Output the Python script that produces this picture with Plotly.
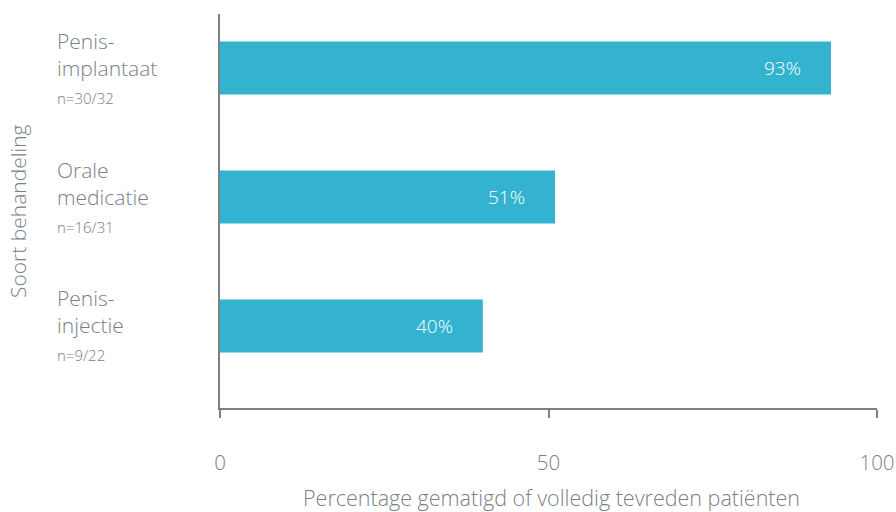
import plotly.graph_objects as go

categories = ["Penis-implantaat", "Orale medicatie", "Penis-injectie"]
label_lines = [["Penis-", "implantaat"], ["Orale", "medicatie"], ["Penis-", "injectie"]]
counts = ["n=30/32", "n=16/31", "n=9/22"]
values = [93, 51, 40]
x_ticks = [0, 50, 100]
x_tick_labels = ["0", "50", "100"]

bar_color = "#33b3cf"
grey = "#7b8087"
font_family = "Open Sans"

L, R, T, B = 220, 19, 14, 104
W, H = 896, 512
pw, ph = W - L - R, H - T - B

fig = go.Figure()
fig.add_trace(go.Bar(
    y=list(range(len(categories))), x=values, orientation="h",
    marker=dict(color=bar_color, line=dict(width=0)),
    width=0.41, hoverinfo="skip",
))

annotations = []
for i, v in enumerate(values):
    annotations.append(dict(
        x=v, y=i, xref="x", yref="y", text=f"{v}%", showarrow=False,
        xanchor="right", xshift=-28,
        font=dict(family=font_family, size=19, color="white", weight=300),
    ))
    txt = "<br>".join(label_lines[i]) + f"<br><span style='font-size:15px'>{counts[i]}</span>"
    annotations.append(dict(
        x=(55 - L) / pw, y=i, xref="paper", yref="y", text=txt, showarrow=False,
        xanchor="left", align="left", yanchor="middle", yshift=1,
        font=dict(family=font_family, size=21, color=grey, weight=300),
    ))
annotations.append(dict(
    x=(18 - L) / pw, y=0.5, xref="paper", yref="paper", text="Soort behandeling",
    textangle=-90, showarrow=False, xanchor="center", yanchor="middle",
    font=dict(family=font_family, size=21, color=grey, weight=300),
))
annotations.append(dict(
    x=(551 - L) / pw, y=-(497 - (T + ph)) / ph, xref="paper", yref="paper",
    text="Percentage gematigd of volledig tevreden patiënten",
    showarrow=False, xanchor="center", yanchor="middle",
    font=dict(family=font_family, size=21.5, color=grey, weight=300),
))

fig.update_layout(
    width=W, height=H,
    margin=dict(l=L, r=R, t=T, b=B, autoexpand=False),
    plot_bgcolor="white", paper_bgcolor="white",
    showlegend=False,
    annotations=annotations,
    xaxis=dict(
        range=[0, 100], tickvals=x_ticks, ticktext=x_tick_labels,
        showgrid=False, zeroline=False, showline=True, linecolor=grey, linewidth=1.5,
        ticks="outside", ticklen=8, tickcolor=grey, tickwidth=1.5,
        ticklabelstandoff=28, automargin=False, ticklabeloverflow="allow",
        tickfont=dict(family=font_family, size=20.5, color=grey, weight=300),
        fixedrange=True,
    ),
    yaxis=dict(
        range=[2.636, -0.419], showticklabels=False, showgrid=False, zeroline=False,
        showline=True, linecolor=grey, linewidth=1.5, ticks="", fixedrange=True,
        automargin=False,
    ),
)

fig.write_html("out.html")
